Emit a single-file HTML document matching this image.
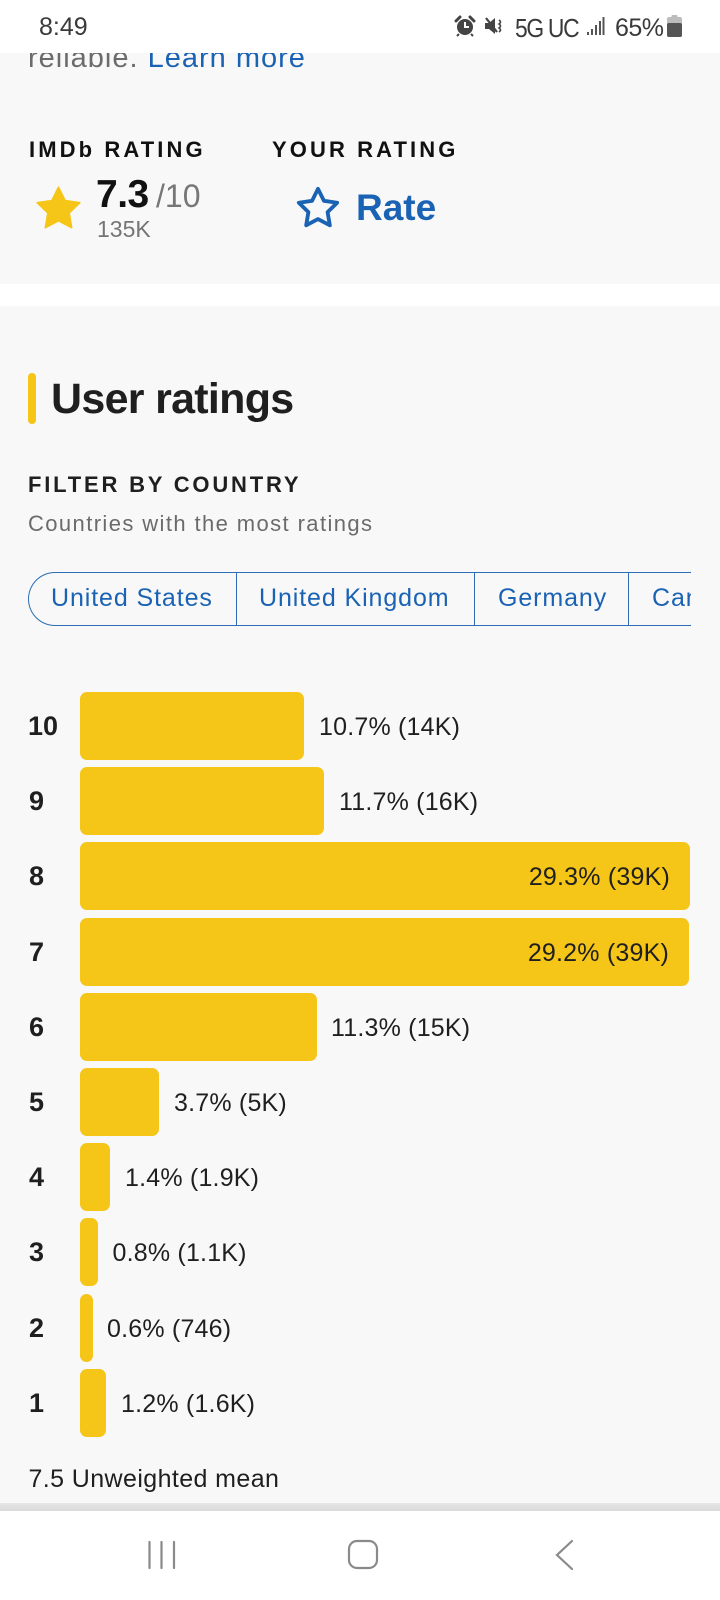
<!DOCTYPE html>
<html><head><meta charset="utf-8">
<style>
*{margin:0;padding:0;box-sizing:border-box}
html,body{width:720px;height:1600px;overflow:hidden;background:#fff}
body{position:relative;font-family:"Liberation Sans",sans-serif;color:#1f1f1f}
.a{position:absolute;white-space:nowrap}
.gray{background:#f8f8f8}
.lab{position:absolute;left:29px;font-size:27px;font-weight:bold;line-height:27px;color:#1f1f1f}
.bar{position:absolute;left:80px;height:68px;background:#f5c518;border-radius:7px}
.val{position:absolute;font-size:25px;line-height:25px;color:#1f1f1f;letter-spacing:0.2px;white-space:nowrap}
.seg{position:absolute;top:0;height:54px;border:1.5px solid #2c6db3;border-right:none}
.pt{position:absolute;top:13.8px;font-size:25px;line-height:25px;color:#1a62b3;letter-spacing:0.9px;white-space:nowrap}
</style></head><body>

<!-- backgrounds -->
<div class="a gray" style="left:0;top:53px;width:720px;height:231px"></div>
<div class="a gray" style="left:0;top:306px;width:720px;height:1197px"></div>
<div class="a" style="left:0;top:1503px;width:720px;height:8px;background:linear-gradient(#e6e6e6,#d9d9d9)"></div>

<!-- partially hidden text -->
<div class="a" style="left:28px;top:43.5px;font-size:29px;line-height:29px;letter-spacing:1px;color:#6b6b6b">reliable. <span style="color:#1a62b3">Learn more</span></div>

<!-- status bar -->
<div class="a" style="left:0;top:0;width:720px;height:53px;background:#fff"></div>
<div class="a" style="left:39px;top:14.8px;font-size:25px;line-height:25px;color:#3a3a3a">8:49</div>
<svg class="a" style="left:453px;top:15px" width="24" height="22" viewBox="0 0 24 22">
 <circle cx="12" cy="12" r="8" fill="#444"/>
 <path d="M3 6 L7 2" stroke="#444" stroke-width="3" stroke-linecap="round"/>
 <path d="M21 6 L17 2" stroke="#444" stroke-width="3" stroke-linecap="round"/>
 <path d="M12 7 V12 H16" stroke="#fff" stroke-width="2" fill="none"/>
 <path d="M6 19 L4 21 M18 19 L20 21" stroke="#444" stroke-width="2"/>
</svg>
<svg class="a" style="left:484px;top:16px" width="22" height="20" viewBox="0 0 22 20">
 <path d="M1 7 H5 L11 2 V18 L5 13 H1 Z" fill="#444"/>
 <path d="M2 2 L13 16" stroke="#444" stroke-width="2.2"/>
 <path d="M15 4 Q18 6 15 8 Q18 10 15 12 Q18 14 15 16" stroke="#444" stroke-width="1.6" fill="none"/>
</svg>
<div class="a" style="left:515px;top:14.8px;font-size:26px;line-height:26px;color:#3a3a3a;letter-spacing:-1.5px;transform:scaleX(0.88);transform-origin:left">5G UC</div>
<svg class="a" style="left:587px;top:16px" width="18" height="20" viewBox="0 0 18 20">
 <rect x="0" y="16" width="2" height="3" fill="#555"/>
 <rect x="4" y="13" width="2" height="6" fill="#555"/>
 <rect x="8" y="9" width="2" height="10" fill="#555"/>
 <rect x="12" y="5" width="2" height="14" fill="#555"/>
 <rect x="15.5" y="1" width="2" height="18" fill="#555"/>
</svg>
<div class="a" style="left:615px;top:15.5px;font-size:25px;line-height:25px;color:#3a3a3a;letter-spacing:-0.5px">65%</div>
<svg class="a" style="left:667px;top:15px" width="15" height="22" viewBox="0 0 15 22">
 <rect x="4.5" y="0" width="6" height="3" rx="1" fill="#bbb"/>
 <rect x="0" y="2" width="15" height="20" rx="2" fill="#bdbdbd"/>
 <rect x="0" y="8" width="15" height="14" rx="2" fill="#555"/>
</svg>

<!-- rating header -->
<div class="a" style="left:29px;top:139.4px;font-size:22px;line-height:22px;font-weight:bold;letter-spacing:3.1px;color:#111">IMDb RATING</div>
<div class="a" style="left:272px;top:139.4px;font-size:22px;line-height:22px;font-weight:bold;letter-spacing:3.1px;color:#111">YOUR RATING</div>

<svg class="a" style="left:33px;top:183px" width="51" height="51" viewBox="0 0 24 24">
 <path d="M12 2l3.09 6.26L22 9.27l-5 4.87 1.18 6.88L12 17.77l-6.18 3.25L7 14.14 2 9.27l6.91-1.01L12 2z" fill="#f5c518" stroke="#f5c518" stroke-width="0.8" stroke-linejoin="round"/>
</svg>
<div class="a" style="left:96px;top:175px;font-size:39px;line-height:39px;font-weight:bold;color:#111;letter-spacing:-0.5px">7.3</div>
<div class="a" style="left:156px;top:180px;font-size:32px;line-height:32px;color:#777">/10</div>
<div class="a" style="left:97px;top:217.5px;font-size:23px;line-height:23px;color:#757575">135K</div>

<svg class="a" style="left:295px;top:185px" width="46" height="46" viewBox="0 0 24 24">
 <path d="M12 2l3.09 6.26L22 9.27l-5 4.87 1.18 6.88L12 17.77l-6.18 3.25L7 14.14 2 9.27l6.91-1.01L12 2z" fill="none" stroke="#1a62b3" stroke-width="2" stroke-linejoin="round"/>
</svg>
<div class="a" style="left:356px;top:189px;font-size:37px;line-height:37px;font-weight:bold;color:#1a62b3">Rate</div>

<!-- user ratings -->
<div class="a" style="left:28px;top:373px;width:8px;height:51px;background:#f5c518;border-radius:4px"></div>
<div class="a" style="left:51px;top:377.6px;font-size:43px;line-height:43px;font-weight:bold;letter-spacing:-0.7px;color:#1f1f1f">User ratings</div>
<div class="a" style="left:28px;top:474.4px;font-size:22px;line-height:22px;font-weight:bold;letter-spacing:2.8px;color:#1f1f1f">FILTER BY COUNTRY</div>
<div class="a" style="left:28px;top:513.4px;font-size:22px;line-height:22px;letter-spacing:1.4px;color:#6b6b6b">Countries with the most ratings</div>

<!-- pills -->
<div class="a" style="left:28px;top:572px;width:663px;height:54px;overflow:hidden">
 <div class="seg" style="left:0;width:209px;border-radius:27px 0 0 27px"></div>
 <div class="seg" style="left:208px;width:239px"></div>
 <div class="seg" style="left:446px;width:155px"></div>
 <div class="seg" style="left:600px;width:120px"></div>
 <div class="pt" style="left:23px">United States</div>
 <div class="pt" style="left:231px">United Kingdom</div>
 <div class="pt" style="left:470px">Germany</div>
 <div class="pt" style="left:624px">Canada</div>
</div>

<!-- bars -->
<div class="lab" style="top:713px;left:28px">10</div>
<div class="bar" style="top:692px;width:224px"></div>
<div class="val" style="top:714.8px;left:319px">10.7% (14K)</div>

<div class="lab" style="top:788px">9</div>
<div class="bar" style="top:767px;width:244px"></div>
<div class="val" style="top:789.8px;left:339px">11.7% (16K)</div>

<div class="lab" style="top:863px">8</div>
<div class="bar" style="top:842px;width:610px"></div>
<div class="val" style="top:864.8px;right:50px">29.3% (39K)</div>

<div class="lab" style="top:939px">7</div>
<div class="bar" style="top:918px;width:609px"></div>
<div class="val" style="top:940.8px;right:51px">29.2% (39K)</div>

<div class="lab" style="top:1014px">6</div>
<div class="bar" style="top:993px;width:237px"></div>
<div class="val" style="top:1015.8px;left:331px">11.3% (15K)</div>

<div class="lab" style="top:1089px">5</div>
<div class="bar" style="top:1068px;width:79px"></div>
<div class="val" style="top:1090.8px;left:174px">3.7% (5K)</div>

<div class="lab" style="top:1164px">4</div>
<div class="bar" style="top:1143px;width:30px"></div>
<div class="val" style="top:1165.8px;left:125px">1.4% (1.9K)</div>

<div class="lab" style="top:1239px">3</div>
<div class="bar" style="top:1218px;width:18px"></div>
<div class="val" style="top:1240.8px;left:112.5px">0.8% (1.1K)</div>

<div class="lab" style="top:1315px">2</div>
<div class="bar" style="top:1294px;width:13px"></div>
<div class="val" style="top:1316.8px;left:107px">0.6% (746)</div>

<div class="lab" style="top:1390px">1</div>
<div class="bar" style="top:1369px;width:26px"></div>
<div class="val" style="top:1391.8px;left:121px">1.2% (1.6K)</div>

<div class="a" style="left:28.5px;top:1466.8px;font-size:25px;line-height:25px;letter-spacing:0.4px;color:#1f1f1f">7.5 Unweighted mean</div>

<!-- nav bar -->
<svg class="a" style="left:140px;top:1536px" width="450" height="40" viewBox="0 0 450 40">
 <g stroke="#8a8a8a" stroke-width="2.2" fill="none" stroke-linecap="round">
  <path d="M9.5 6 V32 M21.5 6 V32 M34 6 V32"/>
  <rect x="209" y="5" width="28" height="27" rx="8"/>
  <path d="M432 5 L417 19 L432 33"/>
 </g>
</svg>

</body></html>
